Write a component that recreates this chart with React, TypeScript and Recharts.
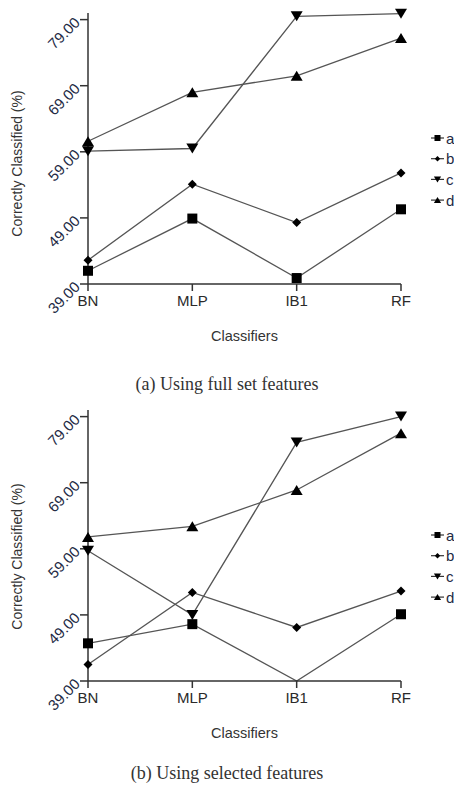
import { LineChart, Line, XAxis, YAxis } from "recharts";

const classifiers = ["BN", "MLP", "IB1", "RF"];
const seriesNames = ["a", "b", "c", "d"];
const yTicks = [39, 49, 59, 69, 79];

// (a) full set of features
const fullA = [41.0, 48.9, 39.9, 50.3];
const fullB = [42.6, 54.1, 48.3, 55.8];
const fullC = [59.1, 59.5, 79.5, 79.9];
const fullD = [60.6, 68.0, 70.5, 76.2];

// (b) selected features
const selA = [44.7, 47.6, 39.0, 49.1];
const selB = [41.5, 52.4, 47.1, 52.6];
const selC = [58.7, 49.0, 75.1, 79.0];
const selD = [60.8, 62.4, 67.9, 76.5];

const shapes = ["square", "diamond", "down", "up"];

const SANS = "'Liberation Sans', Arial, sans-serif";
const SERIF = "'Liberation Serif', 'Times New Roman', serif";
const Y_MIN = 39;

const buildRows = (a: number[], b: number[], c: number[], d: number[]) =>
  classifiers.map((name, i) => ({ name, a: a[i], b: b[i], c: c[i], d: d[i] }));

const fullData = buildRows(fullA, fullB, fullC, fullD);
const selData = buildRows(selA, selB, selC, selD);

function Marker({ shape, cx, cy, s = 1 }: { shape: string; cx: number; cy: number; s?: number }) {
  if (shape === "square") {
    return <rect x={cx - 5 * s} y={cy - 5 * s} width={10 * s} height={10 * s} fill="#000" />;
  }
  if (shape === "diamond") {
    return (
      <polygon
        points={`${cx},${cy - 4.5 * s} ${cx + 4.5 * s},${cy} ${cx},${cy + 4.5 * s} ${cx - 4.5 * s},${cy}`}
        fill="#000"
      />
    );
  }
  if (shape === "down") {
    return (
      <polygon
        points={`${cx - 6 * s},${cy - 5 * s} ${cx + 6 * s},${cy - 5 * s} ${cx},${cy + 5 * s}`}
        fill="#000"
      />
    );
  }
  return (
    <polygon
      points={`${cx - 6 * s},${cy + 5 * s} ${cx + 6 * s},${cy + 5 * s} ${cx},${cy - 5 * s}`}
      fill="#000"
    />
  );
}

const YTick = ({ x, y, payload }: any) => (
  <text
    x={x}
    y={y}
    transform={`rotate(-45 ${x} ${y})`}
    textAnchor="end"
    dominantBaseline="central"
    fontSize={15}
    fontFamily={SANS}
    fill="#232a44"
  >
    {Number(payload.value).toFixed(2)}
  </text>
);

function LegendBox() {
  return (
    <svg
      width={30}
      height={90}
      style={{ position: "absolute", left: 430, top: 128 }}
    >
      {seriesNames.map((name, i) => {
        const cy = 10 + i * 20.7;
        return (
          <g key={name}>
            <line x1={1} x2={14} y1={cy} y2={cy} stroke="#333" strokeWidth={1.2} />
            <Marker shape={shapes[i]} cx={7.5} cy={cy} s={0.6} />
            <text x={16} y={cy} dominantBaseline="central" fontSize={15} fontFamily={SANS} fill="#232a44">
              {name}
            </text>
          </g>
        );
      })}
    </svg>
  );
}

function Panel({
  data,
  caption,
  labelShift,
  captionTop,
}: {
  data: any[];
  caption: string;
  labelShift: number;
  captionTop: number;
}) {
  return (
    <div style={{ position: "relative", width: 454, height: 397 }}>
      <LineChart width={454} height={360} data={data} margin={{ top: 13, right: 53, left: 0, bottom: 0 }}>
        <XAxis
          dataKey="name"
          height={76}
          axisLine={{ stroke: "#333", strokeWidth: 1.5 }}
          tickLine={{ stroke: "#333", strokeWidth: 1.5 }}
          tickSize={7}
          tickMargin={4}
          tick={{ fontSize: 15, fill: "#2a2a2a", fontFamily: SANS }}
          label={{
            value: "Classifiers",
            position: "insideBottom",
            offset: 19,
            fontSize: 14.5,
            fill: "#333",
            fontFamily: SANS,
          }}
        />
        <YAxis
          width={88}
          domain={[Y_MIN, 80]}
          ticks={yTicks}
          interval={0}
          axisLine={{ stroke: "#333", strokeWidth: 1.5 }}
          tickLine={{ stroke: "#333", strokeWidth: 1.5 }}
          tickSize={8}
          tickMargin={3}
          tick={<YTick />}
          label={(props: any) => {
            const vb = props.viewBox || { y: 13, height: 271 };
            const cy = vb.y + vb.height / 2 + labelShift;
            return (
              <text
                x={17}
                y={cy}
                transform={`rotate(-90 17 ${cy})`}
                textAnchor="middle"
                dominantBaseline="central"
                fontSize={14}
                fontFamily={SANS}
                fill="#333"
              >
                Correctly Classified (%)
              </text>
            );
          }}
        />
        {seriesNames.map((name, i) => (
          <Line
            key={name}
            dataKey={name}
            stroke="#555"
            strokeWidth={1.3}
            isAnimationActive={false}
            dot={(p: any) =>
              p.value <= Y_MIN ? (
                <g key={`${name}-${p.index}`} />
              ) : (
                <g key={`${name}-${p.index}`}>
                  <Marker shape={shapes[i]} cx={p.cx} cy={p.cy} />
                </g>
              )
            }
            activeDot={false}
          />
        ))}
      </LineChart>
      <LegendBox />
      <div
        style={{
          position: "absolute",
          left: 0,
          top: captionTop,
          width: 454,
          textAlign: "center",
          fontFamily: SERIF,
          fontSize: 18,
          color: "#333",
          lineHeight: "22px",
        }}
      >
        {caption}
      </div>
    </div>
  );
}

export default function App() {
  return (
    <div style={{ position: "absolute", left: 0, top: 0, width: 454, height: 788, background: "#fff" }}>
      <Panel data={fullData} caption="(a) Using full set features" labelShift={15} captionTop={373} />
      <Panel data={selData} caption="(b) Using selected features" labelShift={11} captionTop={365} />
    </div>
  );
}
